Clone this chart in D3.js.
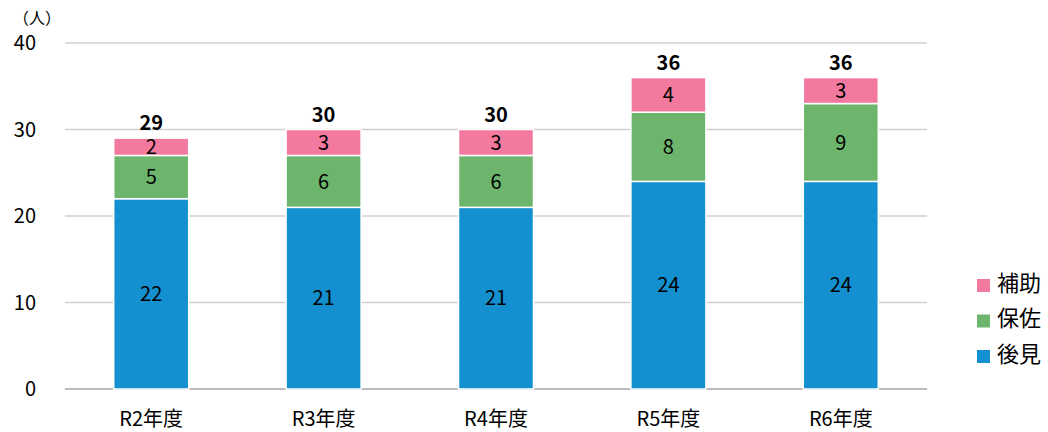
<!DOCTYPE html>
<html>
<head>
<meta charset="utf-8">
<script src="https://cdn.jsdelivr.net/npm/d3@7"></script>
<style>
  html, body { margin: 0; padding: 0; background: #fff; }
  svg { display: block; font-family: "Noto Sans CJK JP", "Noto Sans", sans-serif; }
</style>
</head>
<body>
<svg id="chart" width="1048" height="432"></svg>
<script>
// Fiscal years
const years = ["R2年度", "R3年度", "R4年度", "R5年度", "R6年度"];
// Number of people per category (stacked bottom to top)
const kouken = [22, 21, 21, 24, 24];   // 後見
const hosa   = [5, 6, 6, 8, 9];        // 保佐
const hojo   = [2, 3, 3, 4, 3];        // 補助
const yTicks = [0, 10, 20, 30, 40];

const seriesNames = ["後見", "保佐", "補助"];
const seriesColors = { "後見": "#1490D0", "保佐": "#6DB56D", "補助": "#F37A9E" };

const rows = years.map((y, i) => ({ year: y, "後見": kouken[i], "保佐": hosa[i], "補助": hojo[i] }));
const totals = rows.map(r => r["後見"] + r["保佐"] + r["補助"]);

const svg = d3.select("#chart");
const margin = { left: 65, right: 121, top: 43, bottom: 43 };
const W = 1048, H = 432;

const x = d3.scaleBand().domain(years).range([margin.left, W - margin.right]).paddingInner(0.565).paddingOuter(0.2825);
const y = d3.scaleLinear().domain([0, 40]).range([H - margin.bottom, margin.top]);

// Gridlines
svg.append("g").selectAll("line").data(yTicks).join("line")
  .attr("x1", margin.left).attr("x2", W - margin.right)
  .attr("y1", d => y(d)).attr("y2", d => y(d))
  .attr("stroke", d => d === 0 ? "#a6a6a6" : "#d0d0d0")
  .attr("stroke-width", 1.5);

// Y tick labels
svg.append("g").selectAll("text").data(yTicks).join("text")
  .attr("x", 36).attr("y", d => y(d)).attr("dy", "0.36em")
  .attr("text-anchor", "end").attr("font-size", 20).attr("fill", "#000")
  .text(d => d);

// Unit label
svg.append("text").attr("x", 13).attr("y", 24).attr("font-size", 16).attr("fill", "#000").text("（人）");

// Stacked bars
const stack = d3.stack().keys(seriesNames)(rows);
const layer = svg.append("g").selectAll("g").data(stack).join("g")
  .attr("fill", d => seriesColors[d.key]);

layer.selectAll("rect").data(d => d).join("rect")
  .attr("x", d => x(d.data.year))
  .attr("width", x.bandwidth())
  .attr("y", d => y(d[1]))
  .attr("height", d => y(d[0]) - y(d[1]))
  .attr("stroke", "#fff").attr("stroke-width", 1.5);

// Segment value labels
layer.selectAll("text").data(d => d).join("text")
  .attr("x", d => x(d.data.year) + x.bandwidth() / 2)
  .attr("y", d => (y(d[0]) + y(d[1])) / 2)
  .attr("dy", "0.36em")
  .attr("text-anchor", "middle").attr("font-size", 20).attr("fill", "#000")
  .text(d => d[1] - d[0]);

// Totals above bars
svg.append("g").selectAll("text").data(rows).join("text")
  .attr("x", d => x(d.year) + x.bandwidth() / 2)
  .attr("y", (d, i) => y(totals[i]) - 8)
  .attr("text-anchor", "middle").attr("font-size", 20).attr("font-weight", "bold").attr("fill", "#000")
  .text((d, i) => totals[i]);

// X axis labels
svg.append("g").selectAll("text").data(years).join("text")
  .attr("x", d => x(d) + x.bandwidth() / 2)
  .attr("y", 419).attr("dy", "0.36em")
  .attr("text-anchor", "middle").attr("font-size", 20).attr("fill", "#000")
  .text(d => d);

// Legend (top entry is the top of the stack)
const legendItems = seriesNames.slice().reverse();
const lg = svg.append("g").selectAll("g").data(legendItems).join("g")
  .attr("transform", (d, i) => `translate(977, ${283 + i * 35.5})`);
lg.append("rect").attr("x", 0).attr("y", -4).attr("width", 13).attr("height", 13)
  .attr("fill", d => seriesColors[d]);
lg.append("text").attr("x", 20).attr("y", 0).attr("dy", "0.36em")
  .attr("font-size", 22).attr("fill", "#000").text(d => d);
</script>
</body>
</html>
